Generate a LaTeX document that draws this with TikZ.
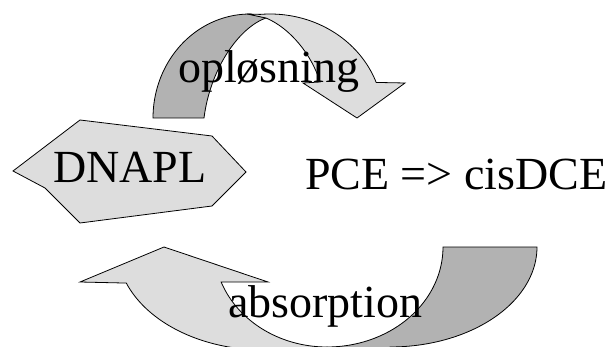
\documentclass[tikz,border=0pt]{standalone}
\usepackage{fontspec}
\setmainfont{Liberation Serif}
\definecolor{bandlight}{HTML}{DDDDDD}
\definecolor{banddark}{HTML}{B2B2B2}
\begin{document}
\begin{tikzpicture}[x=1pt,y=-1pt,
  lightfill/.style={fill=bandlight,draw=black,line width=0.8pt,line join=miter},
  darkfill/.style={fill=banddark,draw=black,line width=0.8pt,line join=miter},
  label/.style={inner sep=0pt,outer sep=0pt,anchor=base west,font=\fontsize{46}{55}\selectfont}]
\useasboundingbox (0,0) rectangle (612,347);
\clip (0,0) rectangle (612,347);
% top curved arrow (oploesning)
\path[darkfill] (153,118) -- plot[domain=180:90,samples=50] ({250+97*cos(\x)},{118-104*sin(\x)})
  -- (266,18) .. controls (238,28) and (210,70) .. (204,118) -- cycle;
\path[lightfill] (266,18) -- (247,14) -- plot[domain=95:20,samples=50] ({270+113*cos(\x)},{118-104*sin(\x)})
  -- (405,83) -- (357,118) -- (303,83) -- (320,82) .. controls (312,55) and (290,28) .. (266,18) -- cycle;
% bottom curved arrow (absorption)
\path[darkfill] (443,247) -- (537,247) -- plot[domain=0:90,samples=50] ({390+147*cos(\x)},{247+100*sin(\x)})
  -- (390,370) -- (327,370) -- plot[domain=90:0,samples=50] ({327+116*cos(\x)},{247+100*sin(\x)}) -- cycle;
\path[lightfill] (80,282) -- (164,247) -- (268,282) -- (222,282)
  -- plot[domain=20.5:90,samples=50] ({327-113*cos(\x)},{247+100*sin(\x)})
  -- (327,370) -- (264,370)
  -- plot[domain=90:20.5,samples=50] ({264-147*cos(\x)},{247+103*sin(\x)}) -- cycle;
% DNAPL polygon
\path[lightfill] (80,120) -- (212,136) -- (246,172) -- (212,206) -- (80,223) -- (45,188) -- (13,171) -- cycle;
% texts
\node[label] (dnapl) at (53,183) {DNAPL};
\node[label] (pce) at (305,190) {PCE => cisDCE};
\node[label] (oplos) at (178,83) {opløsning};
\node[label] (absorp) at (228,317) {absorption};
\end{tikzpicture}
\end{document}
